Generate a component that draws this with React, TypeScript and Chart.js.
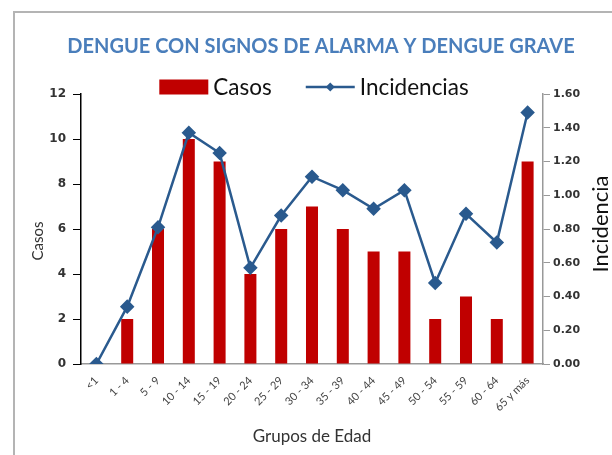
import React, { useEffect, useRef } from "react";
import { Chart, registerables } from "chart.js";

Chart.register(...registerables);

const categories = [
  "<1", "1 - 4", "5 - 9", "10 - 14", "15 - 19", "20 - 24", "25 - 29", "30 - 34",
  "35 - 39", "40 - 44", "45 - 49", "50 - 54", "55 - 59", "60 - 64", "65 y más",
];
const casos = [0, 2, 6, 10, 9, 4, 6, 7, 6, 5, 5, 2, 3, 2, 9];
const incidencias = [0, 0.34, 0.81, 1.37, 1.25, 0.57, 0.88, 1.11, 1.03, 0.92, 1.03, 0.48, 0.89, 0.72, 1.49];

const titleText = "DENGUE CON SIGNOS DE ALARMA Y DENGUE GRAVE";
const leftTitle = "Casos";
const rightTitle = "Incidencia";
const xTitle = "Grupos de Edad";

const FONT = "Lato, 'Open Sans', sans-serif";
const TICK_FONT = "'DejaVu Sans', Lato, sans-serif";
const BAR_COLOR = "#C00000";
const LINE_COLOR = "#2A5A8E";

const customText = {
  id: "customText",
  afterDraw(chart: any) {
    const ctx = chart.ctx as CanvasRenderingContext2D;
    const { left, right, top, bottom } = chart.chartArea;
    const midY = (top + bottom) / 2;
    ctx.save();
    // legend
    ctx.font = `22.5px ${FONT}`;
    ctx.textBaseline = "middle";
    const l0 = chart.data.datasets[0].label;
    const l1 = chart.data.datasets[1].label;
    const w0 = ctx.measureText(l0).width;
    const w1 = ctx.measureText(l1).width;
    const sw = 49, gap = 5, between = 34;
    const total = sw + gap + w0 + between + sw + gap + w1;
    let x = (left + right) / 2 + 2 - total / 2;
    const ly = top - 7;
    ctx.fillStyle = BAR_COLOR;
    ctx.fillRect(x, ly - 7.5, sw, 15);
    x += sw + gap;
    ctx.fillStyle = "#111";
    ctx.textAlign = "left";
    ctx.fillText(l0, x, ly + 1);
    x += w0 + between;
    ctx.strokeStyle = LINE_COLOR;
    ctx.lineWidth = 2.5;
    ctx.beginPath();
    ctx.moveTo(x, ly);
    ctx.lineTo(x + sw, ly);
    ctx.stroke();
    ctx.fillStyle = LINE_COLOR;
    const cx = x + sw / 2;
    ctx.beginPath();
    ctx.moveTo(cx, ly - 4.5);
    ctx.lineTo(cx + 4.5, ly);
    ctx.lineTo(cx, ly + 4.5);
    ctx.lineTo(cx - 4.5, ly);
    ctx.closePath();
    ctx.fill();
    x += sw + gap;
    ctx.fillStyle = "#111";
    ctx.fillText(l1, x, ly + 1);

    // axis titles
    ctx.textAlign = "center";
    ctx.font = `15px ${FONT}`;
    ctx.fillStyle = "#333";
    ctx.save();
    ctx.translate(left - 43, midY + 12);
    ctx.rotate(-Math.PI / 2);
    ctx.fillText(leftTitle, 0, 0);
    ctx.restore();

    ctx.font = `22px ${FONT}`;
    ctx.fillStyle = "#111";
    ctx.save();
    ctx.translate(right + 58, midY - 5);
    ctx.rotate(-Math.PI / 2);
    ctx.fillText(rightTitle, 0, 0);
    ctx.restore();
    ctx.restore();
  },
};

export default function App() {
  const ref = useRef<HTMLCanvasElement | null>(null);
  useEffect(() => {
    if (!ref.current) return;
    const chart = new Chart(ref.current, {
      type: "bar",
      data: {
        labels: categories,
        datasets: [
          {
            type: "bar",
            label: "Casos",
            data: casos,
            backgroundColor: BAR_COLOR,
            yAxisID: "y",
            barPercentage: 0.39,
            categoryPercentage: 1,
            order: 2,
          },
          {
            type: "line",
            label: "Incidencias",
            data: incidencias,
            borderColor: LINE_COLOR,
            backgroundColor: LINE_COLOR,
            borderWidth: 2.5,
            pointStyle: "rectRot",
            pointRadius: 5.5,
            pointHoverRadius: 5.5,
            tension: 0,
            yAxisID: "y1",
            order: 1,
          },
        ],
      },
      options: {
        responsive: false,
        animation: false,
        layout: { padding: { left: 30, right: 0, top: 0, bottom: 0 } },
        plugins: {
          legend: { display: false },
          tooltip: { enabled: false },
          title: {
            display: true,
            text: titleText,
            color: "#4A7EBB",
            font: { family: FONT, size: 20, weight: "bold", lineHeight: 1 },
            padding: { top: 37, bottom: 37 },
          },
        },
        scales: {
          x: {
            offset: true,
            grid: { display: false },
            border: { display: true, color: "#999", width: 1.5 },
            ticks: {
              color: "#444",
              font: { family: FONT, size: 11 },
              maxRotation: 45,
              minRotation: 45,
              autoSkip: false,
              padding: 2,
            },
            title: {
              display: true,
              text: xTitle,
              color: "#333",
              font: { family: FONT, size: 17 },
              padding: { top: 4, bottom: 8 },
            },
            afterFit(scale: any) {
              scale.height = 91;
            },
          },
          y: {
            position: "left",
            min: 0,
            max: 12,
            ticks: {
              stepSize: 2,
              color: "#333",
              font: { family: TICK_FONT, size: 12, weight: "bold" },
              padding: 7,
            },
            grid: { display: true, drawOnChartArea: false, drawTicks: true, tickLength: 8, color: "#000" },
            border: { display: true, color: "#000", width: 1.5 },
            afterFit(scale: any) {
              scale.width = 51;
            },
          },
          y1: {
            position: "right",
            min: 0,
            max: 1.6,
            ticks: {
              stepSize: 0.2,
              color: "#333",
              font: { family: TICK_FONT, size: 11, weight: "bold" },
              padding: 3,
              callback: (v: any) => Number(v).toFixed(2),
            },
            grid: { display: true, drawOnChartArea: false, drawTicks: true, tickLength: 7, color: "#999" },
            border: { display: true, color: "#999", width: 1.5 },
            afterFit(scale: any) {
              scale.width = 69;
            },
          },
        },
      },
      plugins: [customText],
    } as any);
    return () => chart.destroy();
  }, []);

  return (
    <div style={{ position: "fixed", left: 0, top: 0, width: 612, height: 455, background: "#fff", overflow: "hidden" }}>
      <div
        style={{
          position: "absolute",
          left: 13,
          top: 11,
          width: 700,
          height: 600,
          border: "2px solid #b4b4b4",
          boxSizing: "border-box",
        }}
      />
      <canvas ref={ref} width={612} height={455} style={{ position: "absolute", left: 0, top: 0 }} />
    </div>
  );
}
